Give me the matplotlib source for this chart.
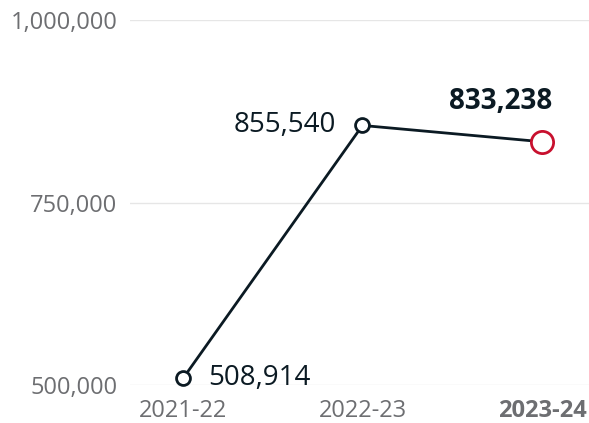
import numpy as np
import matplotlib.pyplot as plt

years = ['2021-22', '2022-23', '2023-24']
values = [508914, 855540, 833238]
yticks = [500000, 750000, 1000000]

plt.rcParams['font.family'] = ['Open Sans', 'DejaVu Sans']

fig = plt.figure(figsize=(5.89, 4.23), dpi=100)
ax = fig.add_axes([130/589, 38/423, 1 - 130/589, (385-20)/423])

x = np.arange(len(years))
ax.plot(x, values, color='#0b1a23', lw=2, zorder=3, clip_on=False)
ax.plot(x[:2], values[:2], 'o', ms=10, mfc='white', mec='#0b1a23', mew=2, zorder=4, clip_on=False)
ax.plot(x[2], values[2], 'o', ms=16, mfc='white', mec='#c8102e', mew=2, zorder=4, clip_on=False)

ax.annotate(f'{values[0]:,}', (x[0], values[0]), xytext=(18, 0), textcoords='offset points',
            ha='left', va='center', fontsize=20, color='#0b1a23')
ax.annotate(f'{values[1]:,}', (x[1], values[1]), xytext=(-19, 0), textcoords='offset points',
            ha='right', va='center', fontsize=20, color='#0b1a23')
ax.annotate(f'{values[2]:,}', (x[2], values[2]), xytext=(-30, 29), textcoords='offset points',
            ha='center', va='center', fontsize=20, color='#0b1a23', fontweight='bold')

ax.set_xlim(-0.295, 2.262)
ax.set_ylim(500000, 1000000)
ax.set_yticks(yticks)
ax.set_yticklabels([f'{v:,}' for v in yticks])
ax.set_xticks(x)
ax.set_xticklabels(years)
for lbl in ax.get_xticklabels():
    if lbl.get_text() == years[-1]:
        lbl.set_fontweight('bold')
        lbl.set_color('#4a4d52')
ax.tick_params(axis='y', length=0, pad=9, labelsize=17, labelcolor='#6d6e71')
ax.tick_params(axis='x', length=0, pad=10, labelsize=17, labelcolor='#6d6e71')
ax.grid(axis='y', color='#e6e6e6', lw=1)
ax.set_axisbelow(True)
for s in ax.spines.values():
    s.set_visible(False)

fig.savefig('out.png', dpi=100)
